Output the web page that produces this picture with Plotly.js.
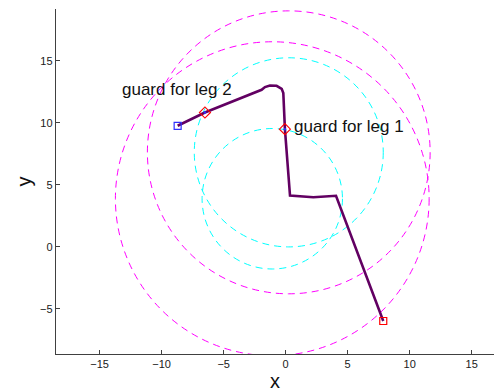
<!DOCTYPE html>
<html>
<head>
<meta charset="utf-8">
<script src="https://cdn.plot.ly/plotly-3.0.1.min.js"></script>
<style>
  html, body { margin: 0; padding: 0; background: #fff; }
  #plot { width: 500px; height: 392px; }
</style>
</head>
<body>
<div id="plot"></div>
<script>
// Trajectory of the pursuer, from the start (red square) to the end (blue square)
const pathX = [7.87, 4.06, 2.23, 0.35, -0.06, -0.19, -0.32, -0.73, -1.27, -1.67, -1.94, -6.51, -8.71];
const pathY = [-5.97, 4.12, 4.00, 4.14, 9.49, 12.40, 12.74, 12.98, 13.00, 12.88, 12.66, 10.83, 9.76];

// Guard points for each leg
const guardX = [-0.06, -6.51];
const guardY = [9.49, 10.83];
const guardLabels = ['guard for leg 1', 'guard for leg 2'];

// Guard circles: one centre per leg, inner and outer radius
const legCenterX = [-1.08, 0.25];
const legCenterY = [3.88, 7.62];
const innerRadius = [5.66, 7.62];
const outerRadius = [12.65, 11.40];

// Axis ticks
const xTicks = [-15, -10, -5, 0, 5, 10, 15];
const yTicks = [-5, 0, 5, 10, 15];

const FONT = 'Liberation Sans, Arial, Helvetica, sans-serif';
const dashStyle = '7px,5px';

const shapes = [];
for (let i = 0; i < legCenterX.length; i++) {
  const rings = [[innerRadius[i], '#00ffff'], [outerRadius[i], '#ff00ff']];
  rings.forEach(([r, color]) => {
    shapes.push({
      type: 'circle', xref: 'x', yref: 'y', layer: 'below',
      x0: legCenterX[i] - r, x1: legCenterX[i] + r,
      y0: legCenterY[i] - r, y1: legCenterY[i] + r,
      line: { color: color, width: 1, dash: dashStyle }
    });
  });
}

const last = pathX.length - 1;
const traces = [
  {
    x: pathX, y: pathY, mode: 'lines', hoverinfo: 'skip',
    line: { color: '#620062', width: 2.6 }
  },
  {
    x: guardX, y: guardY, mode: 'markers', hoverinfo: 'skip',
    marker: { symbol: 'diamond-open', size: 8.5, color: '#ff0000', line: { width: 1.1, color: '#ff0000' } }
  },
  {
    x: guardX, y: guardY, mode: 'markers', hoverinfo: 'skip',
    marker: { symbol: 'circle', size: 2.5, color: '#3030ff' }
  },
  {
    x: [pathX[0]], y: [pathY[0]], mode: 'markers', hoverinfo: 'skip',
    marker: { symbol: 'square-open', size: 7, color: '#ff0000', line: { width: 1.2, color: '#ff0000' } }
  },
  {
    x: [pathX[last]], y: [pathY[last]], mode: 'markers', hoverinfo: 'skip',
    marker: { symbol: 'square-open', size: 7, color: '#3030ff', line: { width: 1.2, color: '#3030ff' } }
  }
];

const annotations = [
  {
    x: guardX[0], y: guardY[0], xref: 'x', yref: 'y', text: guardLabels[0],
    showarrow: false, xanchor: 'left', yanchor: 'middle', xshift: 7, yshift: 3,
    font: { family: FONT, size: 17, color: '#111' }
  },
  {
    x: guardX[1], y: guardY[1], xref: 'x', yref: 'y', text: guardLabels[1],
    showarrow: false, xanchor: 'center', yanchor: 'middle', xshift: -28, yshift: 23,
    font: { family: FONT, size: 17, color: '#111' }
  }
];

const axisCommon = {
  showgrid: false, zeroline: false, showline: true,
  linecolor: '#404040', linewidth: 1.2,
  ticks: 'inside', ticklen: 4, tickwidth: 1, tickcolor: '#404040',
  tickfont: { family: FONT, size: 11, color: '#202020' },
  automargin: false, fixedrange: true
};

const layout = {
  width: 500, height: 392,
  margin: { l: 56, r: 6, t: 9, b: 38 },
  paper_bgcolor: '#ffffff', plot_bgcolor: '#ffffff',
  showlegend: false,
  xaxis: Object.assign({}, axisCommon, {
    range: [-18.52, 16.8], tickvals: xTicks,
    title: { text: 'x', font: { family: FONT, size: 20, color: '#111' }, standoff: 6 }
  }),
  yaxis: Object.assign({}, axisCommon, {
    range: [-8.63, 19.17], tickvals: yTicks,
    title: { text: 'y', font: { family: FONT, size: 20, color: '#111' }, standoff: 3 }
  }),
  shapes: shapes,
  annotations: annotations
};

Plotly.newPlot('plot', traces, layout, { staticPlot: true, displayModeBar: false });
</script>
</body>
</html>
